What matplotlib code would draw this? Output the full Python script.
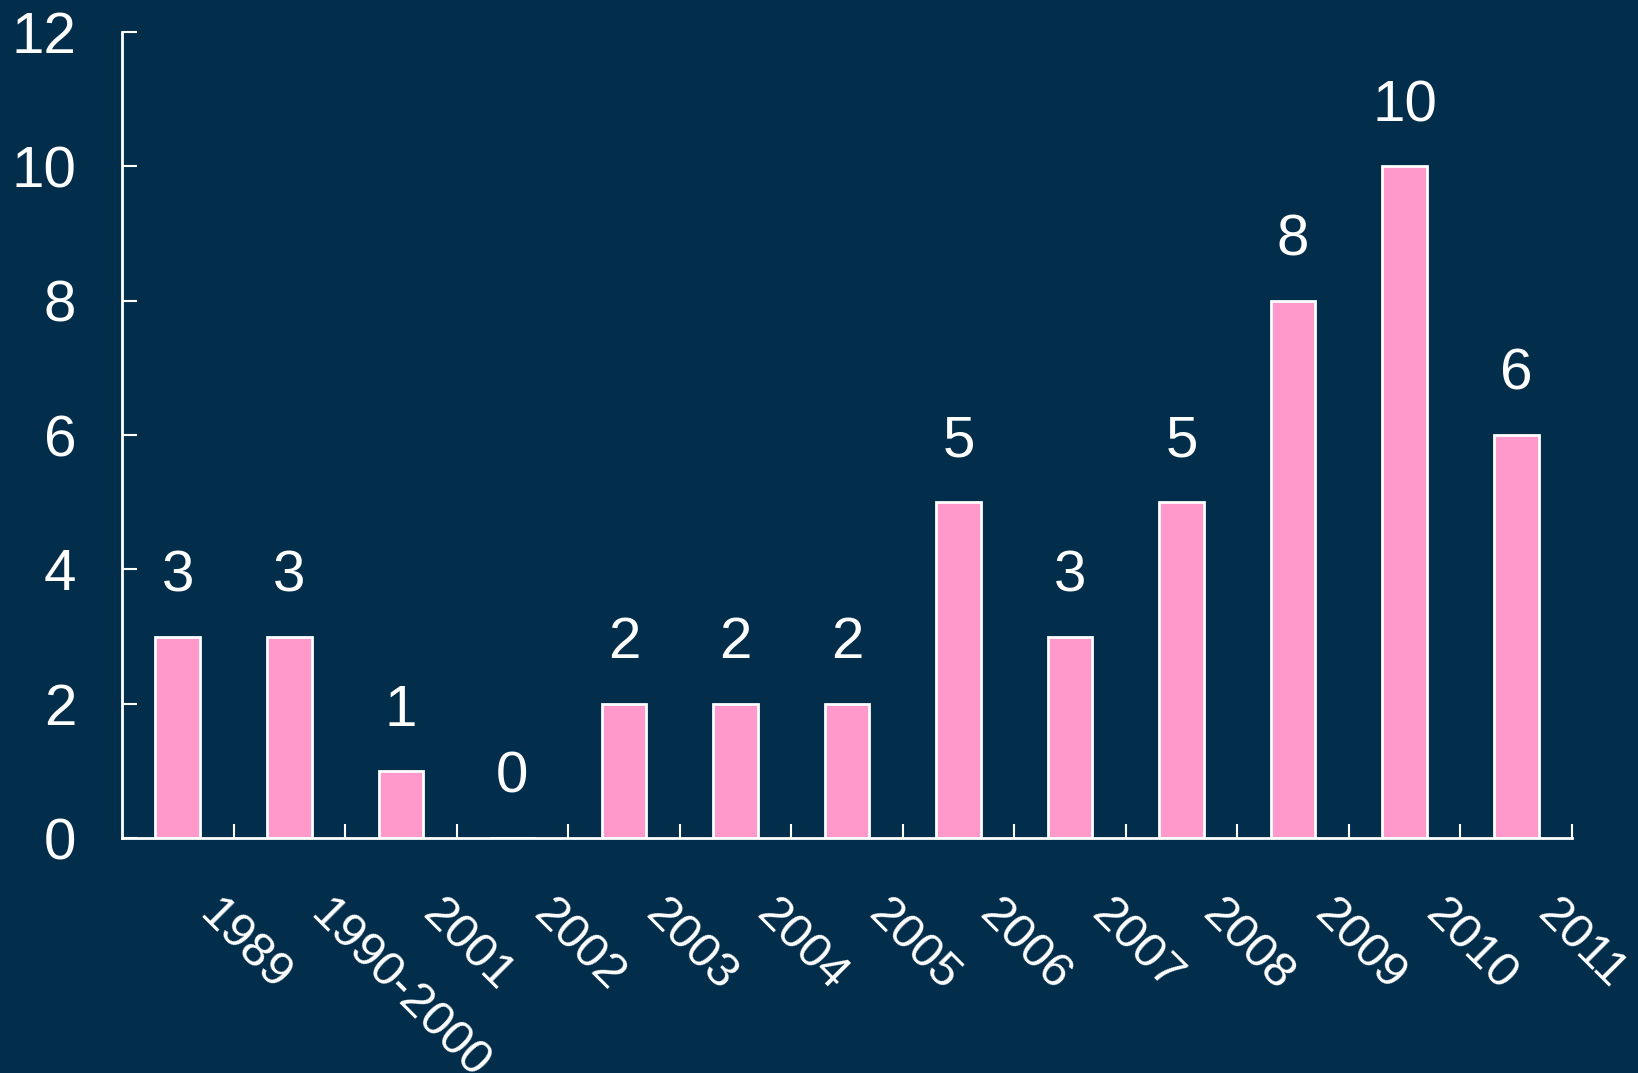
import matplotlib.pyplot as plt
import matplotlib.transforms as mtransforms
import numpy as np

plt.rcParams['font.family'] = ['Liberation Sans', 'DejaVu Sans']

years = ["1989", "1990-2000", "2001", "2002", "2003", "2004", "2005",
         "2006", "2007", "2008", "2009", "2010", "2011"]
counts = [3, 3, 1, 0, 2, 2, 2, 5, 3, 5, 8, 10, 6]

bg = "#032e4b"
pink = "#ff99cc"

fig = plt.figure(figsize=(16.38, 10.73), dpi=100, facecolor=bg)
ax = fig.add_axes([0.0745, 0.219, 0.8852, 0.751])
ax.set_facecolor(bg)

x = np.arange(len(years))
bars = ax.bar(x, counts, width=0.4, color=pink, edgecolor="white", linewidth=2)

for xi, v in zip(x, counts):
    ax.annotate(str(v), (xi, v), xytext=(0, 24), textcoords="offset points",
                ha="center", va="bottom", color="white", fontsize=42)

ax.set_xlim(-0.5, len(years) - 0.5)
ax.set_ylim(0, 12)
ax.set_yticks(range(0, 13, 2))

for s in ["top", "right"]:
    ax.spines[s].set_visible(False)
for s in ["left", "bottom"]:
    ax.spines[s].set_color("white")
    ax.spines[s].set_linewidth(2)

ax.tick_params(axis="y", direction="in", length=11, width=1.5, color="white",
               labelcolor="white", labelsize=42, pad=33)

# category labels at centres, separators as minor ticks
ax.set_xticks(x)
ax.set_xticklabels(years)
ax.set_xticks(np.arange(len(years)) + 0.5, minor=True)
ax.tick_params(axis="x", which="major", length=0, labelcolor="white",
               labelsize=35, pad=38)
ax.tick_params(axis="x", which="minor", direction="in", length=10, width=1.5,
               color="white")

shift = mtransforms.ScaledTranslation(0.44, 0, fig.dpi_scale_trans)
for lbl in ax.get_xticklabels():
    lbl.set_rotation(-45)
    lbl.set_rotation_mode("anchor")
    lbl.set_ha("left")
    lbl.set_va("top")
    lbl.set_transform(lbl.get_transform() + shift)

fig.savefig("out.png", dpi=100, facecolor=bg)
